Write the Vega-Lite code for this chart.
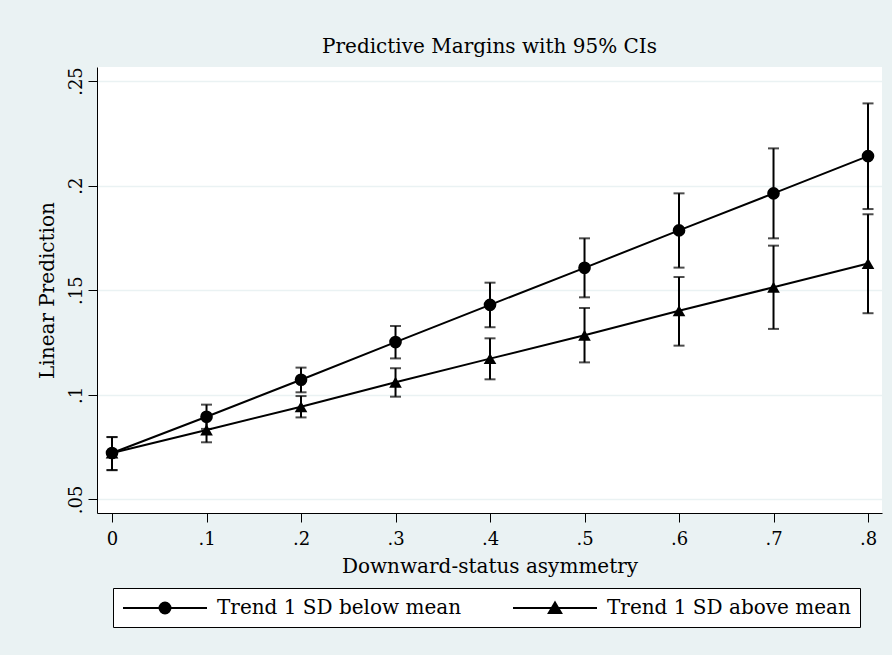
{
  "$schema": "https://vega.github.io/schema/vega-lite/v6.json",
  "width": 785,
  "height": 446,
  "autosize": {"type": "none"},
  "padding": {"left": 97, "top": 67, "right": 10, "bottom": 142},
  "background": "#EAF2F3",
  "title": {"text": "Predictive Margins with 95% CIs", "font": "DejaVu Serif", "fontSize": 20, "fontWeight": "normal", "color": "black", "offset": 10, "anchor": "middle"},
  "config": {
    "view": {"fill": "white", "stroke": null},
    "axis": {
      "labelFont": "DejaVu Serif", "titleFont": "DejaVu Serif",
      "labelFontSize": 18, "titleFontSize": 20, "titleFontWeight": "normal",
      "labelColor": "black", "titleColor": "black",
      "domainColor": "black", "tickColor": "black", "tickSize": 9,
      "domainWidth": 1, "tickWidth": 1
    }
  },
  "data": {
    "values": [
      {"x": 0.0, "series": "Trend 1 SD below mean", "pred": 0.0722, "lo": 0.0640, "hi": 0.0798},
      {"x": 0.1, "series": "Trend 1 SD below mean", "pred": 0.0895, "lo": 0.0837, "hi": 0.0953},
      {"x": 0.2, "series": "Trend 1 SD below mean", "pred": 0.1072, "lo": 0.1012, "hi": 0.1130},
      {"x": 0.3, "series": "Trend 1 SD below mean", "pred": 0.1252, "lo": 0.1174, "hi": 0.1329},
      {"x": 0.4, "series": "Trend 1 SD below mean", "pred": 0.1430, "lo": 0.1323, "hi": 0.1536},
      {"x": 0.5, "series": "Trend 1 SD below mean", "pred": 0.1607, "lo": 0.1466, "hi": 0.1748},
      {"x": 0.6, "series": "Trend 1 SD below mean", "pred": 0.1786, "lo": 0.1608, "hi": 0.1963},
      {"x": 0.7, "series": "Trend 1 SD below mean", "pred": 0.1963, "lo": 0.1748, "hi": 0.2178},
      {"x": 0.8, "series": "Trend 1 SD below mean", "pred": 0.2141, "lo": 0.1888, "hi": 0.2393},
      {"x": 0.0, "series": "Trend 1 SD above mean", "pred": 0.0722, "lo": 0.0640, "hi": 0.0798},
      {"x": 0.1, "series": "Trend 1 SD above mean", "pred": 0.0832, "lo": 0.0773, "hi": 0.0891},
      {"x": 0.2, "series": "Trend 1 SD above mean", "pred": 0.0943, "lo": 0.0892, "hi": 0.0994},
      {"x": 0.3, "series": "Trend 1 SD above mean", "pred": 0.1060, "lo": 0.0991, "hi": 0.1127},
      {"x": 0.4, "series": "Trend 1 SD above mean", "pred": 0.1173, "lo": 0.1074, "hi": 0.1270},
      {"x": 0.5, "series": "Trend 1 SD above mean", "pred": 0.1285, "lo": 0.1155, "hi": 0.1415},
      {"x": 0.6, "series": "Trend 1 SD above mean", "pred": 0.1402, "lo": 0.1235, "hi": 0.1563},
      {"x": 0.7, "series": "Trend 1 SD above mean", "pred": 0.1514, "lo": 0.1315, "hi": 0.1713},
      {"x": 0.8, "series": "Trend 1 SD above mean", "pred": 0.1628, "lo": 0.1390, "hi": 0.1863}
    ]
  },
  "encoding": {
    "x": {
      "field": "x", "type": "quantitative",
      "scale": {"domain": [-0.0159, 0.8148], "nice": false, "zero": false},
      "axis": {
        "values": [0, 0.1, 0.2, 0.3, 0.4, 0.5, 0.6, 0.7, 0.8],
        "labelExpr": "datum.value === 0 ? '0' : replace(format(datum.value, '.1f'), '0.', '.')",
        "title": "Downward-status asymmetry", "grid": false, "labelPadding": 8, "titlePadding": 8
      }
    }
  },
  "resolve": {"scale": {"shape": "independent"}, "legend": {"shape": "independent"}},
  "layer": [
    {
      "mark": {"type": "rule", "color": "black", "strokeWidth": 2},
      "encoding": {
        "y": {
          "field": "lo", "type": "quantitative", "title": "Linear Prediction",
          "scale": {"domain": [0.0435, 0.2567], "nice": false, "zero": false},
          "axis": {
            "values": [0.05, 0.1, 0.15, 0.2, 0.25],
            "labelExpr": "replace(format(datum.value, '.2~f'), '0.', '.')",
            "labelAngle": 270, "labelAlign": "center", "labelBaseline": "alphabetic",
            "labelPadding": 7, "titlePadding": 10,
            "grid": true, "gridColor": "#EAF2F3", "gridWidth": 1.5
          }
        },
        "y2": {"field": "hi"}
      }
    },
    {
      "mark": {"type": "tick", "orient": "horizontal", "size": 11, "thickness": 2, "color": "black"},
      "encoding": {"y": {"field": "lo", "type": "quantitative", "title": "Linear Prediction"}}
    },
    {
      "mark": {"type": "tick", "orient": "horizontal", "size": 11, "thickness": 2, "color": "black"},
      "encoding": {"y": {"field": "hi", "type": "quantitative", "title": "Linear Prediction"}}
    },
    {
      "mark": {"type": "line", "color": "black", "strokeWidth": 2},
      "encoding": {
        "y": {"field": "pred", "type": "quantitative", "title": "Linear Prediction"},
        "detail": {"field": "series"}
      }
    },
    {
      "mark": {"type": "point", "filled": true, "color": "black", "opacity": 1, "size": 160},
      "encoding": {
        "y": {"field": "pred", "type": "quantitative", "title": "Linear Prediction"},
        "shape": {
          "field": "series", "type": "nominal",
          "scale": {"domain": ["Trend 1 SD below mean", "Trend 1 SD above mean"], "range": ["circle", "triangle-up"]},
          "legend": null
        }
      }
    },
    {
      "transform": [{"filter": "false"}],
      "mark": {"type": "point", "filled": false, "color": "black", "strokeWidth": 2, "opacity": 1},
      "encoding": {
        "y": {"field": "pred", "type": "quantitative", "title": "Linear Prediction"},
        "shape": {
          "field": "series", "type": "nominal",
          "scale": {
            "domain": ["Trend 1 SD below mean", "Trend 1 SD above mean"],
            "range": [
              "M-4.2,0H4.2M-0.55,0A0.55,0.55,0,1,0,0.55,0A0.55,0.55,0,1,0,-0.55,0ZM-0.4,0A0.4,0.4,0,1,0,0.4,0A0.4,0.4,0,1,0,-0.4,0ZM-0.25,0A0.25,0.25,0,1,0,0.25,0A0.25,0.25,0,1,0,-0.25,0ZM-0.1,0A0.1,0.1,0,1,0,0.1,0A0.1,0.1,0,1,0,-0.1,0Z",
              "M-4.2,0H4.2M0,-0.55L0.62,0.5L-0.62,0.5ZM0,-0.34L0.434,0.395L-0.434,0.395ZM0,-0.13L0.248,0.29L-0.248,0.29ZM0,0.08L0.062,0.185L-0.062,0.185Z"
            ]
          },
          "legend": {
            "orient": "none", "legendX": 16, "legendY": 521, "direction": "horizontal",
            "title": null, "strokeColor": "black", "fillColor": "white", "padding": 9,
            "labelFont": "DejaVu Serif", "labelFontSize": 20, "labelColor": "black", "labelLimit": 500,
            "symbolSize": 400, "symbolStrokeWidth": 2, "symbolOffset": 32, "labelOffset": 41,
            "symbolStrokeColor": "black", "symbolOpacity": 1,
            "columnPadding": 47
          }
        }
      }
    }
  ]
}
